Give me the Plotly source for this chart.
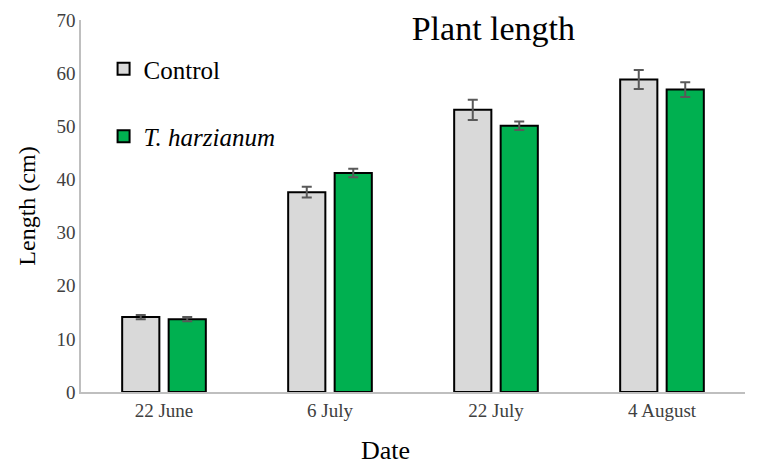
import plotly.graph_objects as go

dates = ["22 June", "6 July", "22 July", "4 August"]
control = [14.1, 37.6, 53.1, 58.8]
control_err = [0.4, 1.0, 1.9, 1.8]
harz = [13.7, 41.2, 50.1, 56.9]
harz_err = [0.4, 0.8, 0.8, 1.4]

FONT = "Liberation Serif"

fig = go.Figure()
fig.add_trace(go.Bar(
    x=dates, y=control, name="Control", legendgroup="a",
    marker=dict(color="#d9d9d9", line=dict(color="black", width=2)),
    error_y=dict(type="data", array=control_err, color="#595959", thickness=2, width=5),
))
fig.add_trace(go.Bar(
    x=dates, y=harz, name="<i>T. harzianum</i>", legendgroup="b",
    marker=dict(color="#00b050", line=dict(color="black", width=2)),
    error_y=dict(type="data", array=harz_err, color="#595959", thickness=2, width=5),
))

fig.update_layout(
    width=762, height=467,
    margin=dict(l=73, r=25, t=12, b=83),
    paper_bgcolor="white", plot_bgcolor="white",
    barmode="group", bargap=0.44, bargroupgap=0.2,
    font=dict(family=FONT, color="black"),
    title=dict(text="Plant length", x=0.637, xanchor="center", y=0.957, yanchor="middle",
               font=dict(size=34, family=FONT, color="black")),
    legend=dict(x=0.034, y=0.93, xanchor="left", yanchor="top", traceorder="grouped",
                tracegroupgap=32, font=dict(size=25, family=FONT, color="black"),
                bgcolor="rgba(0,0,0,0)"),
    xaxis=dict(showline=True, linecolor="#bfbfbf", linewidth=1.5, ticks="", automargin=False,
               tickfont=dict(size=19, color="#404040", family=FONT)),
    yaxis=dict(range=[0, 70], dtick=10, showline=True, linecolor="#bfbfbf", linewidth=1.5,
               showgrid=False, zeroline=False, ticks="", automargin=False,
               tickfont=dict(size=19, color="#404040", family=FONT),
               title=dict(text="Length (cm)", font=dict(size=24, family=FONT, color="black"), standoff=14)),
    annotations=[dict(text="Date", xref="paper", yref="paper", x=0.458, y=-0.156,
                      xanchor="center", yanchor="middle", showarrow=False,
                      font=dict(size=26, family=FONT, color="black"))],
)

fig.write_html("out.html")
